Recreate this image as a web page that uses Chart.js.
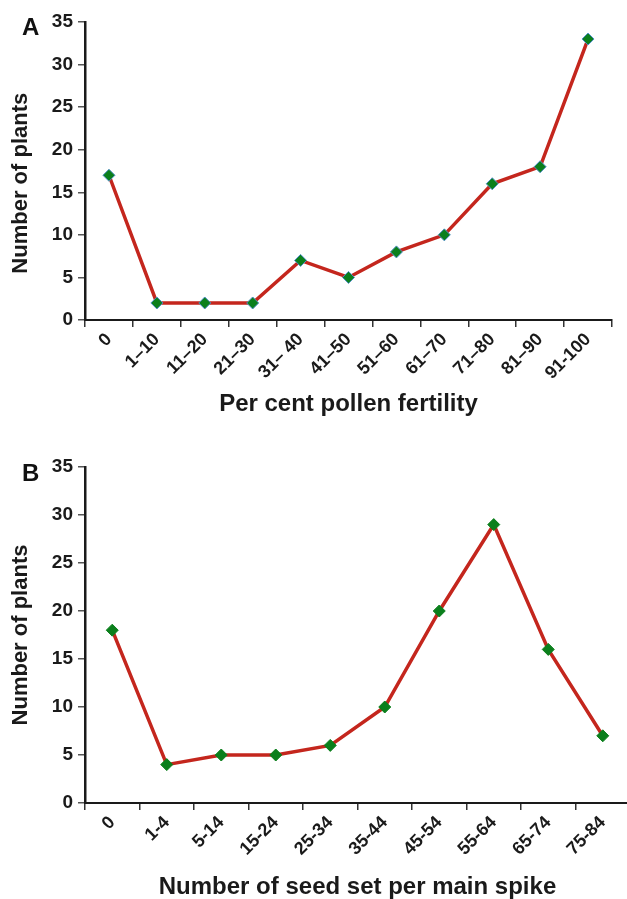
<!DOCTYPE html>
<html>
<head>
<meta charset="utf-8">
<script src="https://cdn.jsdelivr.net/npm/chart.js@4.4.1/dist/chart.umd.min.js"></script>
<style>
  html, body { margin: 0; padding: 0; background: #fff; }
  body { width: 627px; height: 899px; position: relative; overflow: hidden; font-family: "Liberation Sans", Arial, sans-serif; }
  .panel { position: absolute; left: 0; }
  .letter { position: absolute; font-weight: bold; font-size: 24px; color: #111; }
</style>
</head>
<body>
<div class="panel" style="top:0; width:627px; height:419px;"><canvas id="chartA"></canvas></div>
<!-- panel B axis runs past the right edge of the figure, so its canvas is wider and gets clipped -->
<div class="panel" style="top:445px; width:640px; height:457px;"><canvas id="chartB"></canvas></div>
<div class="letter" style="left:22px; top:13px;">A</div>
<div class="letter" style="left:22px; top:459px;">B</div>
<script>
// panel A: pollen fertility classes
const fertilityClasses = ['0', '1–10', '11–20', '21–30', '31– 40', '41–50', '51–60', '61–70', '71–80', '81–90', '91-100'];
const plantsA = [17, 2, 2, 2, 7, 5, 8, 10, 16, 18, 33];

// panel B: seed set classes
const seedClasses = ['0', '1-4', '5-14', '15-24', '25-34', '35-44', '45-54', '55-64', '65-74', '75-84'];
const plantsB = [18, 4, 5, 5, 6, 10, 20, 29, 16, 7];

const yTicks = [0, 5, 10, 15, 20, 25, 30, 35];

const FONT = '"Liberation Sans", Arial, sans-serif';
const INK = '#1a1a1a';

function makeChart(id, labels, values, opts) {
  return new Chart(document.getElementById(id), {
    type: 'line',
    data: {
      labels: labels,
      datasets: [{
        data: values,
        borderColor: '#c4261d',
        borderWidth: 3.5,
        pointStyle: 'rectRot',
        pointRadius: 6,
        pointBackgroundColor: '#0b7f1c',
        pointBorderColor: opts.markerBorder,
        pointBorderWidth: 1,
        tension: 0,
      }],
    },
    options: {
      responsive: true,
      maintainAspectRatio: false,
      animation: false,
      layout: { padding: { left: 8, right: opts.right, top: 22, bottom: 0 } },
      plugins: { legend: { display: false }, tooltip: { enabled: false } },
      scales: {
        x: {
          offset: true,
          border: { display: true, color: INK, width: 2 },
          grid: { offset: true, drawOnChartArea: false, drawTicks: true, tickLength: 7, color: '#333', lineWidth: 1.5 },
          ticks: {
            autoSkip: false,
            maxRotation: 45,
            minRotation: 45,
            padding: 2,
            color: INK,
            font: { family: FONT, size: 18, weight: 'bold' },
          },
          title: {
            display: true,
            text: opts.xTitle,
            color: INK,
            padding: { top: 0, bottom: 0 },
            font: { family: FONT, size: 24, weight: 'bold' },
          },
          afterFit: (s) => { s.height = 99; },
        },
        y: {
          min: 0,
          max: 35,
          afterBuildTicks: (s) => { s.ticks = yTicks.map(v => ({ value: v })); },
          border: { display: true, color: INK, width: 2.5 },
          grid: { drawOnChartArea: false, drawTicks: true, tickLength: 7, color: '#555', lineWidth: 1.5 },
          ticks: {
            padding: 5,
            color: INK,
            font: { family: FONT, size: 19, weight: 'bold' },
          },
          title: {
            display: true,
            text: opts.yTitle,
            color: INK,
            padding: { top: 0, bottom: 0 },
            font: { family: FONT, size: 22, weight: 'bold' },
          },
          afterFit: (s) => { s.width = 77; },
        },
      },
    },
  });
}

makeChart('chartA', fertilityClasses, plantsA, {
  xTitle: 'Per cent pollen fertility',
  yTitle: 'Number of plants    ',
  right: 15,
  markerBorder: '#4f8fc4',
});

makeChart('chartB', seedClasses, plantsB, {
  xTitle: 'Number of seed set per main spike',
  yTitle: 'Number of plants',
  right: 10,
  markerBorder: '#0b7f1c',
});
</script>
</body>
</html>
